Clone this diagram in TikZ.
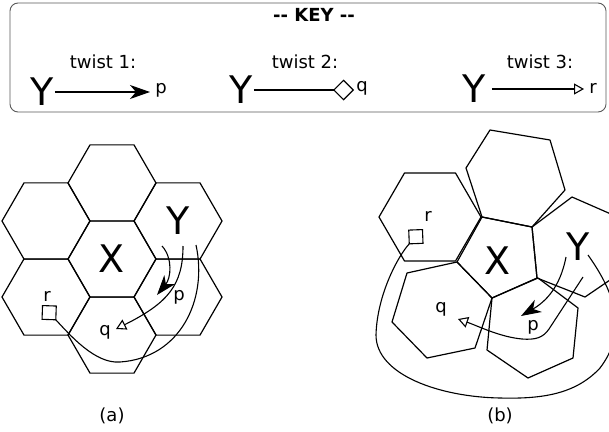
\documentclass[tikz,border=0pt]{standalone}
\usepackage{fontspec}
\setmainfont{DejaVu Sans}
\usetikzlibrary{arrows.meta,shapes.geometric}

\tikzset{
  hexcell/.style={draw, regular polygon, regular polygon sides=6,
    minimum size=88pt, inner sep=0pt, line width=1.2pt},
  face/.style={line width=1.2pt, line join=round},
  bigtxt/.style={font=\fontsize{38}{40}\selectfont, inner sep=1pt},
  smalltxt/.style={font=\fontsize{18}{20}\selectfont, inner sep=0pt},
  twistone/.style={line width=1.1pt, -{Stealth[length=20pt,width=14pt,inset=6pt]}},
  twisttwo/.style={line width=1.1pt, -{Diamond[open,length=21pt,width=21pt]}},
  twistthree/.style={line width=1.1pt, -{Triangle[open,length=10pt,width=11pt]}},
}

\begin{document}
\begin{tikzpicture}[x=1pt, y=-1pt]
\useasboundingbox (0,0) rectangle (609,431);
\clip (0,0) rectangle (609,431);

% key
\draw[black!65, line width=0.9pt, rounded corners=8pt] (10,3) rectangle (606,112);
\node[font=\fontsize{18}{20}\selectfont\bfseries] (key) at (314,15) {-{}- KEY -{}-};

\node[smalltxt] (k1-t) at (103,62) {twist 1:};
\node[bigtxt] (k1) at (42,92) {Y};
\node[smalltxt] (k1-p) at (161,90) {p};
\coordinate (k1-e) at (150,92);
\draw[twistone] (k1) -- (k1-e);

\node[smalltxt] (k2-t) at (305,62) {twist 2:};
\node[bigtxt] (k2) at (241,90) {Y};
\node[smalltxt] (k2-q) at (362,88) {q};
\coordinate (k2-e) at (354,90);
\draw[twisttwo] (k2) -- (k2-e);

\node[smalltxt] (k3-t) at (540,62) {twist 3:};
\node[bigtxt] (k3) at (474,89) {Y};
\node[smalltxt] (k3-r) at (593,88) {r};
\coordinate (k3-e) at (584,89);
\draw[twistthree, shorten <=5pt] (k3) -- (k3-e);

% (a) regular cells
\foreach \n/\x/\y/\t in {t/112/183/{}, ul/46/221/{}, y/178/221/Y, x/112/259/X,
                         ll/46/297/{}, lr/178/297/{}, b/112/335/{}}
    \node[hexcell, bigtxt] (a-\n) at (\x,\y) {\t};

\node[smalltxt] (a-p) at (179,297) {p};
\node[smalltxt] (a-q) at (105,332) {q};
\node[smalltxt] (a-r) at (47,296) {r};

\coordinate (a-s1) at (162,246);
\coordinate (a-s2) at (183,246);
\coordinate (a-s3) at (196,245);
\coordinate (a-e1) at (157,295);
\coordinate (a-e2) at (116,329);
\coordinate (a-e3) at (42,305);
\draw[twistone] (a-s1) .. controls (173,258) and (171,278) .. (a-e1);
\draw[twistthree] (a-s2) .. controls (183,285) and (168,303) .. (a-e2);
\draw[twisttwo] (a-s3) .. controls (208,300) and (180,358) .. (120,362)
    .. controls (95,364) and (70,335) .. (a-e3);

% (b) distorted cells
\draw[face] (379,217) -- (404.5,173) -- (455.5,173) -- (481,217) -- (455.5,261) -- (404.5,261) -- cycle;
\draw[face] (490,130) -- (550,140) -- (565,190) -- (532,227) -- (482,217) -- (466,168) -- cycle;
\draw[face] (482,217) -- (532,227) -- (537,278) -- (492,298) -- (457,262) -- cycle;
\draw[face] (532,227) -- (572,197) -- (620,218) -- (632,265) -- (585,297) -- (537,278) -- cycle;
\draw[face] (492,298) -- (538,278) -- (578,308) -- (573,358) -- (528,378) -- (487,350) -- cycle;
\draw[face] (407,273) -- (457,262) -- (492,298) -- (475,348) -- (427,358) -- (392,322) -- cycle;

\node[bigtxt] (b-x) at (498,261) {X};
\node[bigtxt] (b-y) at (578,247) {Y};
\node[smalltxt] (b-p) at (533,327) {p};
\node[smalltxt] (b-q) at (441,309) {q};
\node[smalltxt] (b-r) at (428,216) {r};

\coordinate (b-s1) at (566,257);
\coordinate (b-s2) at (583,277);
\coordinate (b-s3) at (588,255);
\coordinate (b-e1) at (521,316);
\coordinate (b-e2) at (458,319);
\coordinate (b-e3) at (423,229);
\draw[twistone] (b-s1) .. controls (560,288) and (545,302) .. (b-e1);
\draw[twistthree] (b-s2) -- (549,329) .. controls (543,338) and (535,340) .. (522,339)
    .. controls (500,337) and (478,326) .. (b-e2);
\draw[twisttwo] (b-s3) .. controls (620,300) and (625,335) .. (600,368)
    .. controls (575,395) and (540,399) .. (500,398)
    .. controls (440,397) and (376,375) .. (376,335)
    .. controls (377,295) and (398,256) .. (b-e3);

\node[smalltxt] (cap-a) at (112,416) {(a)};
\node[smalltxt] (cap-b) at (500,416) {(b)};
\end{tikzpicture}
\end{document}
